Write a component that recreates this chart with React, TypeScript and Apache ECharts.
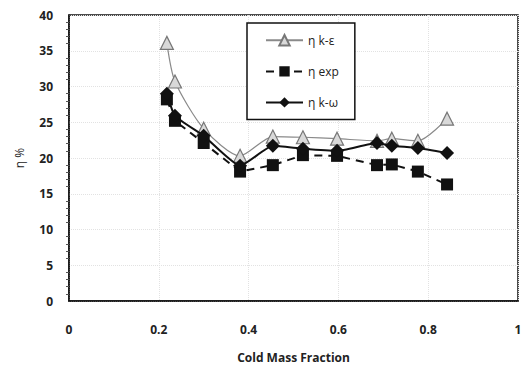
import React, { useEffect, useRef } from "react";
import * as echarts from "echarts";

const xValues = [0.218, 0.236, 0.3, 0.381, 0.454, 0.521, 0.597, 0.686, 0.719, 0.777, 0.842];
const kEpsilon = [36.1, 30.7, 24.1, 20.3, 23.0, 22.9, 22.7, 22.4, 22.7, 22.4, 25.5];
const expValues = [28.2, 25.2, 22.1, 18.1, 19.0, 20.4, 20.3, 19.0, 19.1, 18.1, 16.3];
const kOmega = [29.0, 25.9, 23.1, 18.9, 21.7, 21.3, 21.0, 22.1, 21.7, 21.4, 20.7];
const seriesNames = ["η k-ε", "η exp", "η k-ω"];
const xAxisTitle = "Cold Mass Fraction";
const yAxisTitle = "η %";

const pairs = (ys: number[]) => xValues.map((x, i) => [x, ys[i]]);

export default function App() {
  const ref = useRef<HTMLDivElement>(null);
  useEffect(() => {
    if (!ref.current) return;
    const chart = echarts.init(ref.current, undefined, { renderer: "svg" });
    const font = "'Open Sans', 'DejaVu Sans', sans-serif";
    chart.setOption({
      animation: false,
      backgroundColor: "#fff",
      grid: {
        left: 69,
        right: 14,
        top: 15,
        bottom: 64,
        show: true,
        borderColor: "#111",
        borderWidth: 1.5,
      },
      legend: {
        orient: "vertical",
        left: 247,
        top: 23,
        padding: [11, 16, 11, 18],
        itemGap: 19,
        itemWidth: 37,
        itemHeight: 13,
        borderColor: "#111",
        borderWidth: 1.5,
        backgroundColor: "#fff",
        textStyle: { fontFamily: font, fontSize: 12, color: "#222" },
        data: seriesNames,
      },
      xAxis: {
        type: "value",
        min: 0,
        max: 1,
        interval: 0.2,
        name: xAxisTitle,
        nameLocation: "middle",
        nameGap: 50,
        nameTextStyle: { fontFamily: font, fontSize: 12, fontWeight: "bold", color: "#222" },
        axisLine: { show: true, lineStyle: { color: "#111", width: 1.5 } },
        axisTick: { show: false },
        axisLabel: {
          margin: 22,
          fontFamily: font,
          fontSize: 12,
          color: "#222",
          fontWeight: "bold",
          formatter: (v: number) => String(Math.round(v * 10) / 10),
        },
        splitLine: { show: true, lineStyle: { color: "#e2e2e2", type: "dotted" } },
      },
      yAxis: {
        type: "value",
        min: 0,
        max: 40,
        interval: 5,
        name: yAxisTitle,
        nameLocation: "middle",
        nameGap: 58,
        nameRotate: 90,
        nameTextStyle: { fontFamily: font, fontSize: 12, color: "#222", padding: [0, 0, -14, 0] },
        axisLine: { show: true, lineStyle: { color: "#111", width: 1.5 } },
        axisTick: { show: false },
        minorTick: { show: true, splitNumber: 5, length: 3, lineStyle: { color: "#555" } },
        axisLabel: { margin: 16, fontFamily: font, fontSize: 12, color: "#222", fontWeight: "bold" },
        splitLine: { show: true, lineStyle: { color: "#e2e2e2", type: "dotted" } },
      },
      series: [
        {
          name: seriesNames[0],
          type: "line",
          data: pairs(kEpsilon),
          smooth: 0.25,
          symbol: "triangle",
          symbolSize: 13,
          lineStyle: { color: "#8a8a8a", width: 1.2 },
          itemStyle: { color: "#d9d9d9", borderColor: "#777", borderWidth: 1.2 },
          z: 2,
        },
        {
          name: seriesNames[1],
          type: "line",
          data: pairs(expValues),
          symbol: "rect",
          symbolSize: 12,
          lineStyle: { color: "#111", width: 2, type: [8, 6] },
          itemStyle: { color: "#111" },
          z: 3,
        },
        {
          name: seriesNames[2],
          type: "line",
          data: pairs(kOmega),
          smooth: 0.15,
          symbol: "diamond",
          symbolSize: 14,
          lineStyle: { color: "#111", width: 2 },
          itemStyle: { color: "#111" },
          z: 4,
        },
      ],
    });
    return () => chart.dispose();
  }, []);
  return <div ref={ref} style={{ width: 532, height: 368, position: "absolute", left: 0, top: 0 }} />;
}
